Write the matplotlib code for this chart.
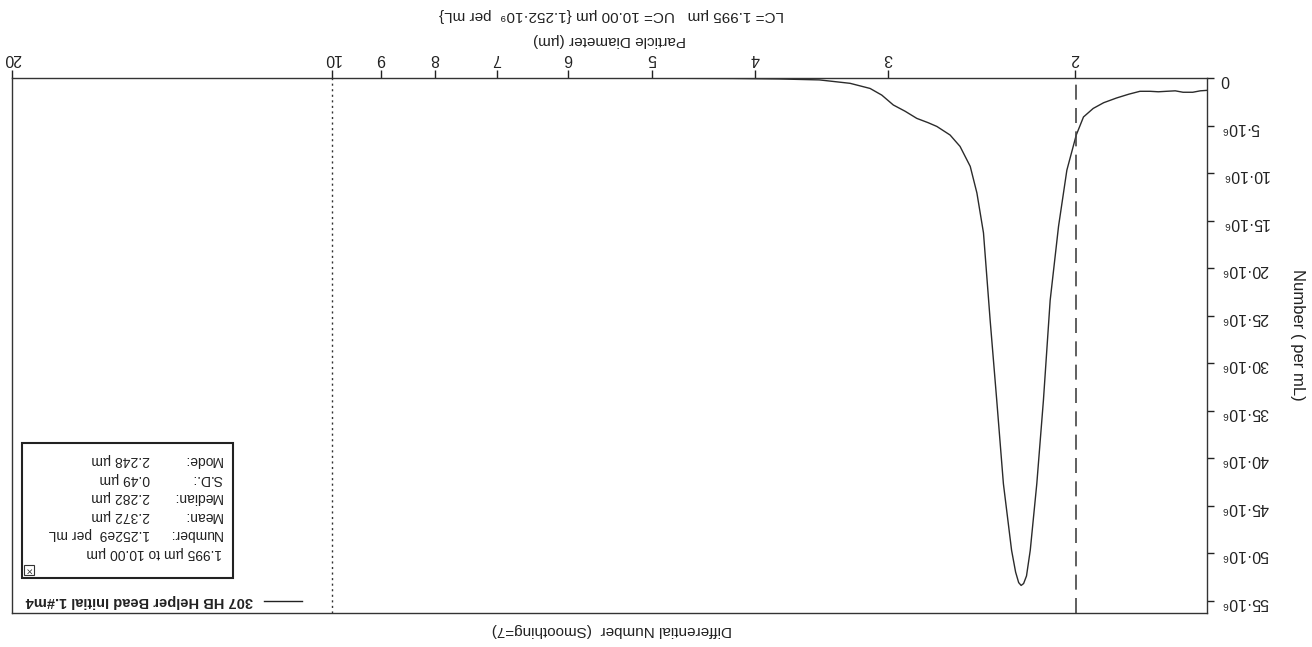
import numpy as np
import matplotlib
matplotlib.use("Agg")
import matplotlib.pyplot as plt
from matplotlib.patches import Rectangle
from matplotlib.lines import Line2D
from matplotlib.ticker import NullLocator

plt.rcParams['font.family'] = ['Liberation Sans', 'DejaVu Sans']

# Differential number vs particle diameter (values in millions per mL)
diameter = [1.503, 1.525, 1.55, 1.583, 1.61, 1.641, 1.67, 1.70, 1.738, 1.78,
            1.828, 1.88, 1.923, 1.964, 1.995, 2.036, 2.073, 2.111, 2.142, 2.173,
            2.204, 2.222, 2.236, 2.248, 2.260, 2.275, 2.295, 2.336, 2.370, 2.404,
            2.439, 2.474, 2.510, 2.566, 2.622, 2.698, 2.75, 2.818, 2.89, 2.965,
            3.04, 3.118, 3.256, 3.48, 3.8, 4.2, 5.0, 6.0, 8.0, 10.0, 14.0, 20.0]
number = [1.3, 1.35, 1.5, 1.5, 1.35, 1.4, 1.45, 1.4, 1.4, 1.7,
          2.1, 2.6, 3.2, 4.1, 6.0, 9.7, 15.6, 23.4, 33.9, 42.7,
          49.7, 52.4, 53.2, 53.4, 53.1, 52.0, 49.7, 42.7, 33.9, 25.5,
          16.3, 12.1, 9.3, 7.2, 6.0, 5.1, 4.7, 4.25, 3.5, 2.84,
          1.8, 1.1, 0.56, 0.2, 0.1, 0.05, 0.02, 0.0, 0.0, 0.0, 0.0, 0.0]

x_ticks = [20, 10, 9, 8, 7, 6, 5, 4, 3, 2]
y_ticks = list(range(0, 60, 5))
y_labels = ['0'] + [f'{v}·10⁶' for v in y_ticks[1:]]

lower_cut = 1.995
upper_cut = 10.0

stats_lines = [
    ('1.995 µm to 10.00 µm', ''),
    ('Number:', '1.252e9  per mL'),
    ('Mean:', '2.372 µm'),
    ('Median:', '2.282 µm'),
    ('S.D.:', '0.49 µm'),
    ('Mode:', '2.248 µm'),
]
series_name = '307 HB Helper Bead Initial 1.#m4'

W, H = 1312, 647
fig = plt.figure(figsize=(W / 100, H / 100), dpi=100)


def fx(px):
    return px / W


def fy(py):
    return 1 - py / H


# the scanned page is upside down, so everything is drawn rotated by 180 degrees
ax = fig.add_axes([fx(12), fy(613), fx(1207) - fx(12), fy(78) - fy(613)])
ax.plot(diameter, number, color='#2b2b2b', lw=1.0)
ax.axvline(upper_cut, color='#333333', lw=1.0, ls=(0, (1.5, 2.5)))
ax.axvline(lower_cut, color='#444444', lw=1.2, ls=(0, (9, 5)))

ax.set_xscale('log')
ax.set_xlim(20, 1.503)
ax.set_ylim(56.3, 0)
ax.xaxis.tick_top()
ax.yaxis.tick_right()
ax.set_xticks(x_ticks)
ax.set_xticklabels([str(t) for t in x_ticks])
ax.xaxis.set_minor_locator(NullLocator())
ax.set_yticks(y_ticks)
ax.set_yticklabels(y_labels)
ax.tick_params(axis='x', direction='out', length=6, width=1, pad=3,
               labelsize=11.5, labelrotation=180, colors='#222222')
ax.tick_params(axis='y', direction='out', length=5, width=1, pad=5,
               labelsize=11.5, labelrotation=180, colors='#222222')
for s in ax.spines.values():
    s.set_color('#333333')
    s.set_linewidth(1.0)

# axis titles and header (rotated)
fig.text(fx(612), fy(15), 'LC= 1.995 µm   UC= 10.00 µm {1.252·10⁹  per mL}',
         rotation=180, ha='center', va='center', fontsize=11, color='#222222')
fig.text(fx(610), fy(40), 'Particle Diameter (µm)',
         rotation=180, ha='center', va='center', fontsize=11, color='#222222')
fig.text(fx(1297), fy(335), 'Number ( per mL)',
         rotation=270, ha='center', va='center', fontsize=12, color='#222222')
fig.text(fx(612), fy(630), 'Differential Number  (Smoothing=7)',
         rotation=180, ha='center', va='center', fontsize=11, color='#222222')

# legend entry
fig.add_artist(Line2D([fx(264), fx(302)], [fy(601), fy(601)],
                      color='#222222', lw=1.0))
fig.text(fx(253), fy(601), series_name, rotation=180, ha='right',
         va='center', fontsize=10.5, fontweight='bold', color='#222222')

# statistics box
fig.add_artist(Rectangle((fx(22), fy(578)), fx(233) - fx(22), fy(443) - fy(578),
                         transform=fig.transFigure, fill=False,
                         edgecolor='#222222', lw=1.5))
fig.add_artist(Rectangle((fx(24), fy(575)), fx(10), fy(565) - fy(575),
                         transform=fig.transFigure, fill=False,
                         edgecolor='#333333', lw=0.8))
fig.text(fx(29), fy(570), '×', rotation=180, ha='center', va='center',
         fontsize=8, color='#333333')
row_y = [553, 534, 516, 497, 479, 460]
for (lab, val), yy in zip(stats_lines, row_y):
    fig.text(fx(222), fy(yy), lab, rotation=180, ha='right', va='center',
             fontsize=10, color='#222222')
    if val:
        fig.text(fx(150), fy(yy), val, rotation=180, ha='right', va='center',
                 fontsize=10, color='#222222')

fig.savefig('out.png', dpi=100)
